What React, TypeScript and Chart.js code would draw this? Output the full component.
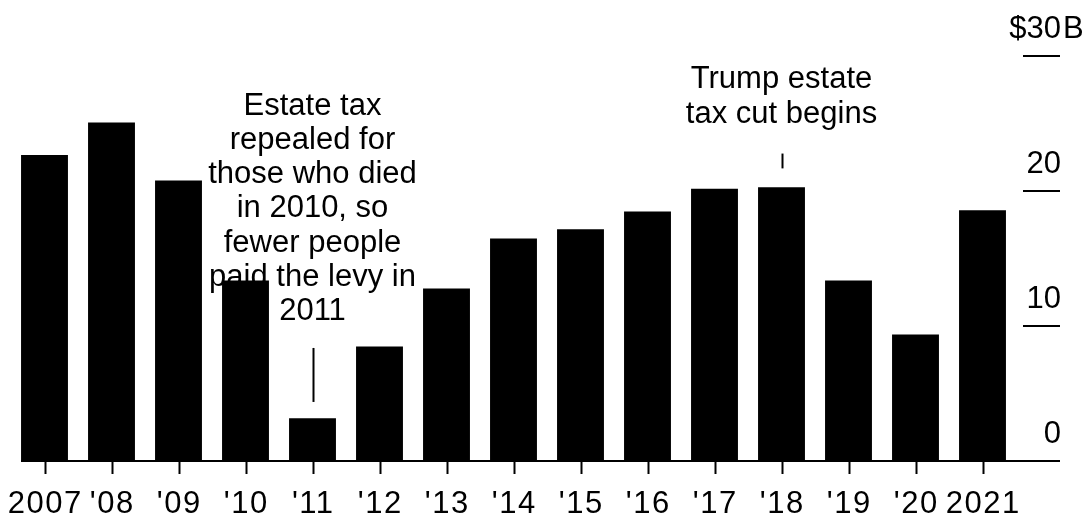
import React, { useEffect, useRef } from "react";
import { Chart, registerables } from "chart.js";

Chart.register(...registerables);

const categories = ["2007", "'08", "'09", "'10", "'11", "'12", "'13", "'14", "'15", "'16", "'17", "'18", "'19", "'20", "2021"];
const estateTaxRevenue = [22.6, 25.0, 20.7, 13.3, 3.1, 8.4, 12.7, 16.4, 17.1, 18.4, 20.1, 20.2, 13.3, 9.3, 18.5];
const yTicks = [0, 10, 20, 30];
const yTickPrefix = ["", "", "", "$"];
const yTickSuffix = ["", "", "", "B"];
const annotation2011 = ["Estate tax", "repealed for", "those who died", "in 2010, so", "fewer people", "paid the levy in", "2011"];
const annotation2018 = ["Trump estate", "tax cut begins"];

const FONT = '31px "Liberation Sans", Arial, sans-serif';

const overlayPlugin = {
  id: "overlay",
  afterDraw(chart: any) {
    const ctx = chart.ctx;
    const x = chart.scales.x;
    const y = chart.scales.y;
    const y0 = y.getPixelForValue(0);
    ctx.save();
    ctx.strokeStyle = "#000";
    ctx.fillStyle = "#000";
    ctx.lineWidth = 2;
    ctx.font = FONT;

    // baseline
    const firstLeft = x.getPixelForValue(0) - 23.5;
    ctx.beginPath();
    ctx.moveTo(firstLeft, y0 + 1);
    ctx.lineTo(1060, y0 + 1);
    ctx.stroke();

    // x ticks and labels
    ctx.textAlign = "center";
    ctx.textBaseline = "alphabetic";
    categories.forEach((c, i) => {
      const px = Math.round(x.getPixelForValue(i)) + 0.5;
      ctx.beginPath();
      ctx.moveTo(px, y0 + 2);
      ctx.lineTo(px, y0 + 14);
      ctx.stroke();
    });
    ctx.save();
    try { (ctx as any).letterSpacing = "1.5px"; } catch (e) {}
    categories.forEach((c, i) => {
      const px = x.getPixelForValue(i);
      ctx.fillText(c, px + 0.75, y0 + 53);
    });
    ctx.restore();

    // y ticks (right side)
    yTicks.forEach((v, i) => {
      const py = Math.round(y.getPixelForValue(v));
      ctx.beginPath();
      ctx.moveTo(1023, py + 1);
      ctx.lineTo(1060, py + 1);
      ctx.stroke();
      const num = String(v);
      ctx.textAlign = "right";
      ctx.fillText(num, 1061, py - 17);
      const w = ctx.measureText(num).width;
      if (yTickPrefix[i]) ctx.fillText(yTickPrefix[i], 1061 - w, py - 17);
      if (yTickSuffix[i]) {
        ctx.textAlign = "left";
        ctx.fillText(yTickSuffix[i], 1063, py - 17);
      }
    });

    // annotation 2011
    const a11 = x.getPixelForValue(4);
    ctx.textAlign = "center";
    ctx.textBaseline = "middle";
    annotation2011.forEach((line, i) => {
      ctx.fillText(line, a11, 106 + i * 34.3);
    });
    ctx.beginPath();
    ctx.moveTo(Math.round(a11) + 0.5, y.getPixelForValue(8.3));
    ctx.lineTo(Math.round(a11) + 0.5, y.getPixelForValue(4.3));
    ctx.stroke();

    // annotation 2018
    const a18 = x.getPixelForValue(11);
    annotation2018.forEach((line, i) => {
      ctx.fillText(line, a18, 79 + i * 35);
    });
    ctx.beginPath();
    ctx.moveTo(Math.round(a18) + 0.5, y.getPixelForValue(22.7));
    ctx.lineTo(Math.round(a18) + 0.5, y.getPixelForValue(21.6));
    ctx.stroke();

    ctx.restore();
  },
};

export default function App() {
  const ref = useRef<HTMLCanvasElement | null>(null);
  useEffect(() => {
    document.body.style.margin = "0";
    document.body.style.background = "#fff";
    const canvas = ref.current;
    if (!canvas) return;
    const chart = new Chart(canvas, {
      type: "bar",
      data: {
        labels: categories,
        datasets: [
          {
            data: estateTaxRevenue,
            backgroundColor: "#000",
            borderWidth: 0,
            barPercentage: 0.7,
            categoryPercentage: 1.0,
          },
        ],
      },
      options: {
        animation: false,
        responsive: false,
        devicePixelRatio: 1,
        layout: { padding: { left: 11, right: 75, top: 55, bottom: 58 } },
        plugins: { legend: { display: false }, tooltip: { enabled: false } },
        scales: {
          x: { display: false },
          y: { display: false, min: 0, max: 30 },
        },
      },
      plugins: [overlayPlugin],
    });
    return () => chart.destroy();
  }, []);
  return (
    <div style={{ width: 1091, height: 518, overflow: "hidden", background: "#fff" }}>
      <canvas ref={ref} width={1091} height={518} />
    </div>
  );
}
